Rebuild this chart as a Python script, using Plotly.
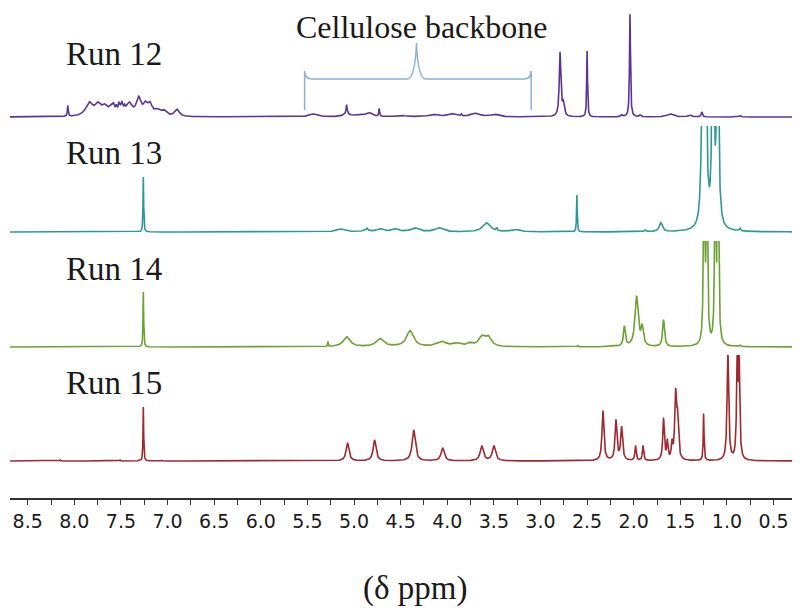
import numpy as np
import plotly.graph_objects as go

# ---------------- data ----------------
# chemical-shift axis of the spectra (ppm)
ppm = np.linspace(8.70, 0.27, 6001)

run_names = ["Run 12", "Run 13", "Run 14", "Run 15"]

# peak lists: position (ppm), height (a.u.), half width at half max (ppm)
run12_pos = [8.07, 7.84, 7.75, 7.68, 7.60, 7.58, 7.55, 7.52, 7.49, 7.46, 7.50,
             7.41, 7.31, 7.24, 7.19, 7.11, 7.04, 6.90,
             5.44, 5.08, 5.08, 4.95, 4.84, 4.73, 4.50, 4.15, 3.95, 3.85, 3.70, 3.49,
             2.79, 2.755, 2.50, 2.13, 2.04, 1.93, 1.61, 1.40, 1.27, 0.86]
run12_height = [11, 13, 10, 8, 8, 4, 4, 5, 5, 3, 7,
                11, 17, 9, 11, 5, 5, 7,
                3, 9, 3, 2, 4, 8, 1.5, 2.5, 3, 2, 3.5, 2.5,
                64, 12, 66, 2, 103, 2, 3, 2, 5, 1.5]
run12_width = [0.005, 0.045, 0.035, 0.035, 0.04, 0.006, 0.006, 0.006, 0.006, 0.006, 0.045,
               0.035, 0.03, 0.025, 0.03, 0.035, 0.035, 0.03,
               0.05, 0.006, 0.04, 0.05, 0.04, 0.005, 0.06, 0.06, 0.05, 0.006, 0.06, 0.05,
               0.010, 0.012, 0.005, 0.01, 0.006, 0.01, 0.04, 0.02, 0.008, 0.01]

run13_pos = [7.26, 5.15, 4.87, 4.86, 4.72, 4.56, 4.35, 4.09, 3.58, 3.47, 3.27,
             2.61, 1.88, 1.71, 1.26, 1.23, 1.15, 1.10, 0.86]
run13_height = [55, 3, 2, 2, 3, 3, 4, 4, 9, 3, 2.5,
                38, 2, 9, 300, 300, 300, 300, 2.5]
run13_width = [0.004, 0.05, 0.04, 0.004, 0.04, 0.04, 0.05, 0.05, 0.05, 0.006, 0.05,
               0.004, 0.01, 0.02, 0.01, 0.01, 0.01, 0.01, 0.008]

run14_pos = [7.26, 5.28, 5.08, 4.72, 4.40, 4.06, 3.90, 3.76, 3.63, 3.56,
             2.60, 2.10, 1.97, 1.91, 1.68, 1.245, 1.215, 1.125, 1.095, 0.86]
run14_height = [55, 5, 10, 8, 16, 5, 3, 3, 9, 9,
                1.5, 20, 50, 18, 27, 300, 300, 300, 300, 1.5]
run14_width = [0.004, 0.004, 0.045, 0.05, 0.045, 0.06, 0.05, 0.04, 0.04, 0.04,
               0.004, 0.012, 0.02, 0.015, 0.012, 0.006, 0.006, 0.006, 0.006, 0.008]

run15_pos = [8.15, 7.51, 7.26, 7.06, 5.07, 4.78, 4.36, 4.05, 3.63, 3.50,
             2.33, 2.19, 2.13, 1.98, 1.90, 1.68, 1.64, 1.59, 1.55, 1.53,
             1.25, 0.99, 0.89, 0.87]
run15_height = [1, 1, 54, 0.7, 18, 21, 31, 13, 15, 15,
                50, 40, 33, 15, 15, 42, 18, 15, 65, 35,
                48, 110, 100, 100]
run15_width = [0.005, 0.005, 0.004, 0.005, 0.018, 0.018, 0.02, 0.02, 0.02, 0.02,
               0.012, 0.012, 0.012, 0.008, 0.008, 0.01, 0.008, 0.008, 0.012, 0.01,
               0.005, 0.01, 0.008, 0.008]

tick_values = [8.5, 8.0, 7.5, 7.0, 6.5, 6.0, 5.5, 5.0, 4.5, 4.0, 3.5, 3.0, 2.5, 2.0, 1.5, 1.0, 0.5]

# ---------------- styling ----------------
colors = ["#5b3596", "#2f9896", "#6ca134", "#9e2a2f"]
bracket_color = "#8fb0d8"
text_color = "#1a1a1a"
serif = "Liberation Serif, Times New Roman, serif"

# The page body has an 8 px margin, so the figure is 792x600 and every
# reference pixel position is expressed relative to the visible window.
OFF = 8
AXIS_PY = 499          # x-axis line (window px)
TOP_PY = OFF           # top of plot area (window px)
PLOT_H = AXIS_PY - TOP_PY
LEFT_PX, RIGHT_PX = 10, 795
PLOT_W = RIGHT_PX - LEFT_PX

baselines_px = [117, 232, 347, 461]
Y_LOW, Y_HIGH = -3, 106


def py2paper(py):
    return (AXIS_PY - py) / PLOT_H


def px2paper(px):
    return (px - LEFT_PX) / PLOT_W


def spectrum(pos, height, width):
    y = np.zeros_like(ppm)
    for p, h, w in zip(pos, height, width):
        y += h / (1.0 + ((ppm - p) / w) ** 2)
    return y


runs = [
    (run12_pos, run12_height, run12_width),
    (run13_pos, run13_height, run13_width),
    (run14_pos, run14_height, run14_width),
    (run15_pos, run15_height, run15_width),
]

fig = go.Figure()
layout_axes = {}
for i, ((pos, h, w), name, col, b) in enumerate(zip(runs, run_names, colors, baselines_px)):
    yname = "y" if i == 0 else f"y{i + 1}"
    fig.add_trace(go.Scatter(
        x=ppm, y=spectrum(pos, h, w), mode="lines", name=name,
        line=dict(color=col, width=1.6), xaxis="x", yaxis=yname,
        showlegend=False, hoverinfo="skip"))
    lo = py2paper(b - Y_LOW)
    hi = min(1.0, py2paper(b - Y_HIGH))
    key = "yaxis" if i == 0 else f"yaxis{i + 1}"
    layout_axes[key] = dict(domain=[lo, hi], range=[Y_LOW, Y_HIGH], visible=False,
                            anchor="x", fixedrange=True)

# run labels
label_px = [54, 153, 269, 383]
annotations = []
for name, py in zip(run_names, label_px):
    annotations.append(dict(
        text=name, xref="paper", yref="paper", x=px2paper(64),
        y=py2paper(py), xanchor="left", yanchor="middle",
        showarrow=False, font=dict(family=serif, size=33, color=text_color)))
annotations.append(dict(
    text="Cellulose backbone", xref="paper", yref="paper", x=px2paper(421),
    y=1.0, xanchor="center", yanchor="top", borderpad=0,
    showarrow=False, font=dict(family=serif, size=32, color=text_color)))
annotations.append(dict(
    text="(δ ppm)", xref="paper", yref="paper", x=px2paper(415),
    y=py2paper(588), xanchor="center", yanchor="middle",
    showarrow=False, font=dict(family=serif, size=33, color=text_color)))

yb, yt, yc, yr = py2paper(110), py2paper(79), py2paper(43), py2paper(71)
bracket_path = (
    f"M 5.53,{yb} L 5.53,{yr} Q 5.53,{yt} 5.45,{yt} L 4.43,{yt} "
    f"Q 4.345,{yt} 4.33,{yc} Q 4.315,{yt} 4.23,{yt} L 3.18,{yt} "
    f"Q 3.10,{yt} 3.10,{yr} L 3.10,{yb}"
)

fig.update_layout(
    width=800 - OFF, height=608 - OFF,
    margin=dict(l=LEFT_PX - OFF, r=800 - RIGHT_PX, t=TOP_PY - OFF, b=608 - AXIS_PY),
    paper_bgcolor="white", plot_bgcolor="white",
    xaxis=dict(
        range=[8.69, 0.27], anchor="free", position=0,
        showline=True, linecolor="#333333", linewidth=1.5,
        ticks="outside", ticklen=5, tickwidth=1.2, tickcolor="#333333",
        tickmode="array", tickvals=tick_values,
        ticktext=[f"{v:.1f}" for v in tick_values],
        minor=dict(dtick=0.25, tick0=0, ticks="outside", ticklen=5,
                   tickwidth=1.2, tickcolor="#333333", showgrid=False),
        tickfont=dict(family="DejaVu Sans, Verdana, sans-serif", size=19, color=text_color),
        showgrid=False, zeroline=False, fixedrange=True),
    annotations=annotations,
    shapes=[dict(type="path", path=bracket_path, xref="x", yref="paper",
                 line=dict(color=bracket_color, width=1.5))],
    **layout_axes,
)

fig.write_html("out.html")
